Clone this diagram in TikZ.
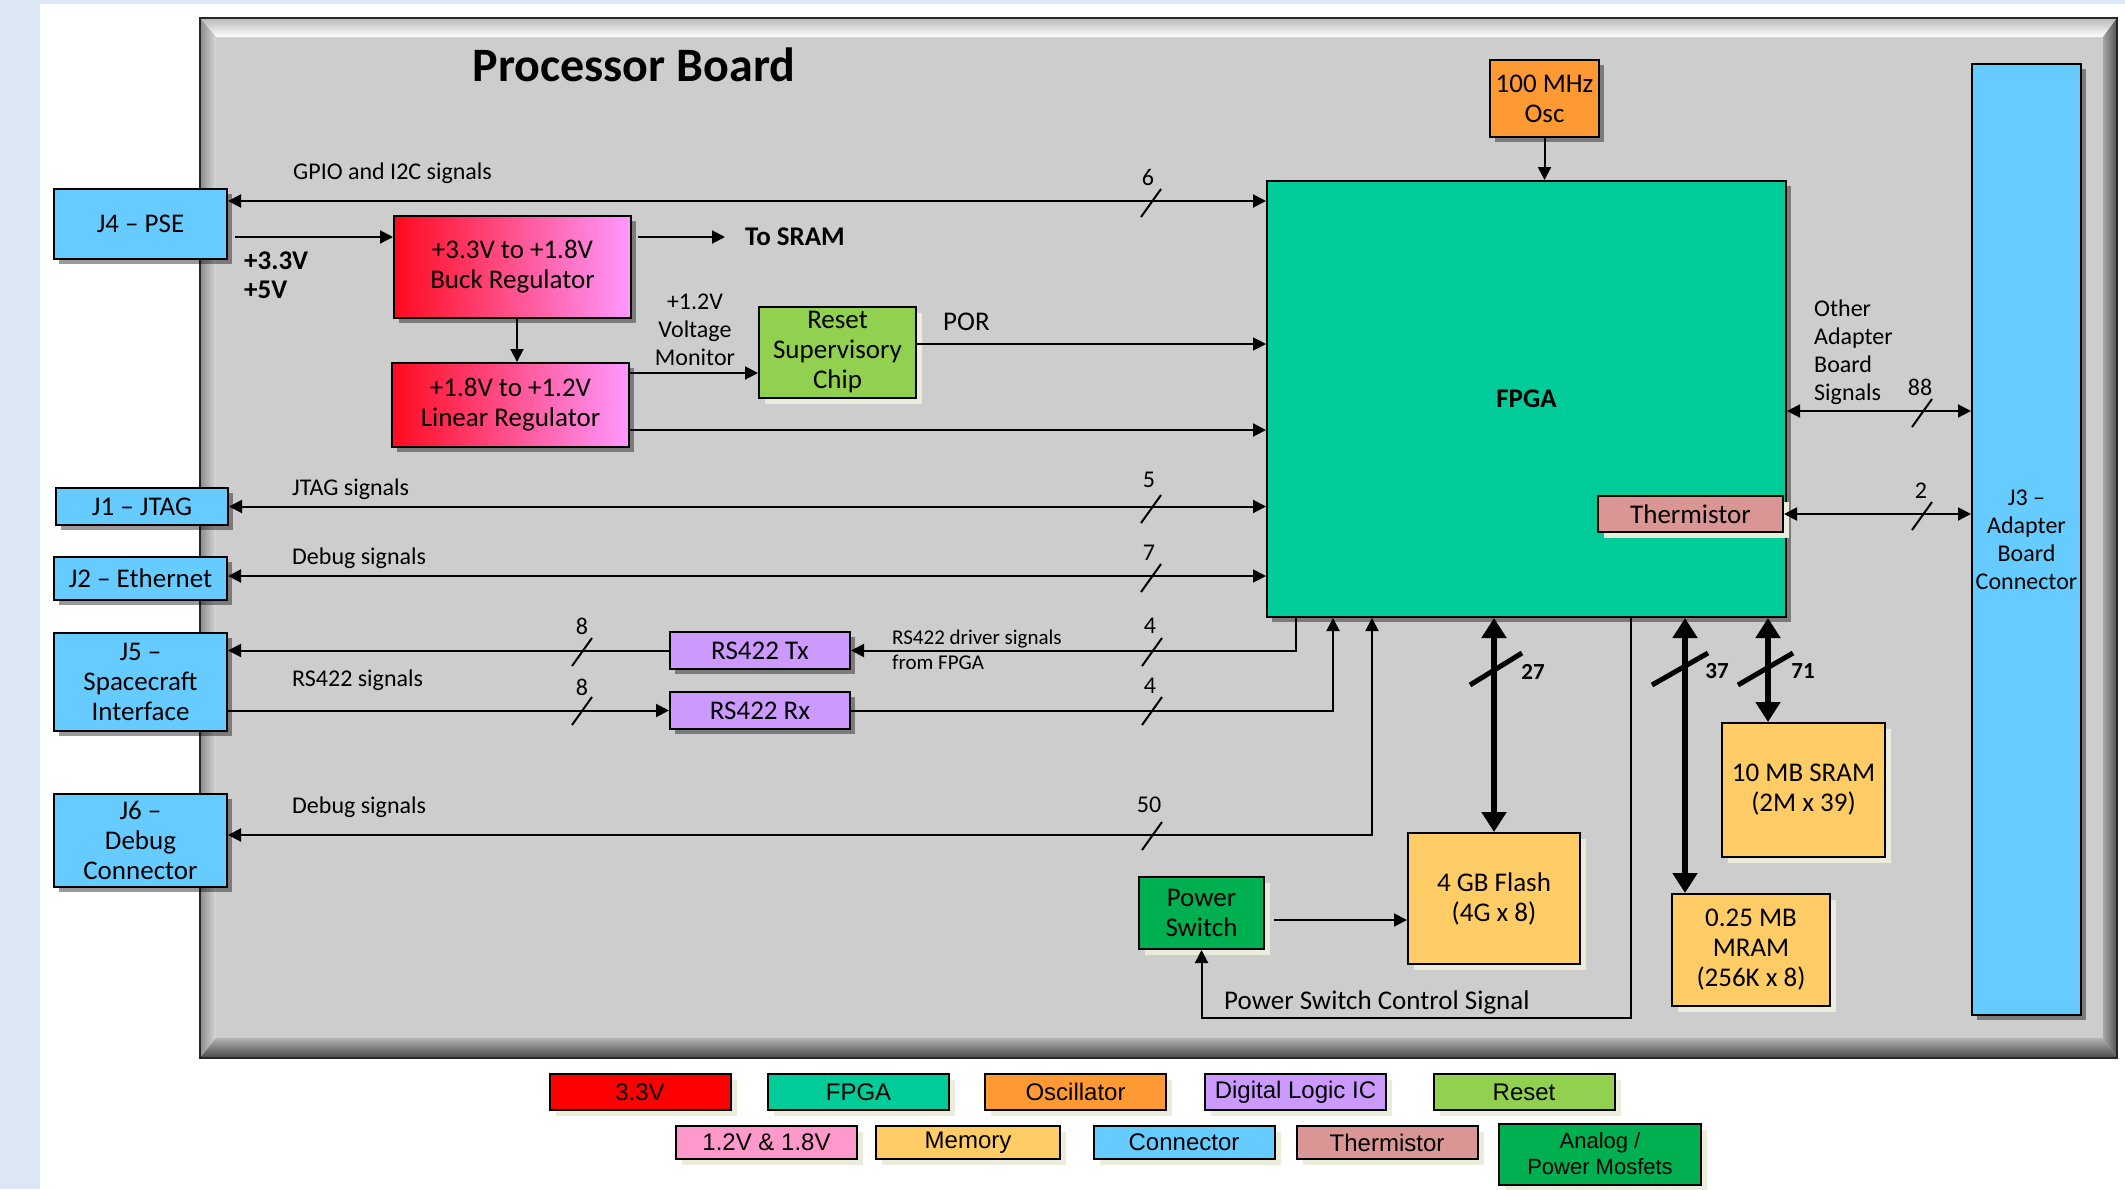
\documentclass[tikz,border=0pt]{standalone}
\usepackage{fontspec}
\setmainfont{Carlito}
\newfontfamily\legfont{Liberation Sans}
\usetikzlibrary{arrows.meta,shadows}
\definecolor{conblue}{HTML}{66CCFF}
\definecolor{fpgagreen}{HTML}{00CC99}
\definecolor{oscorange}{HTML}{FF9933}
\definecolor{logicpurple}{HTML}{CC99FF}
\definecolor{resetgreen}{HTML}{92D050}
\definecolor{lvpink}{HTML}{FF99CC}
\definecolor{memyellow}{HTML}{FFCC66}
\definecolor{thermrose}{HTML}{D99694}
\definecolor{mosgreen}{HTML}{00B050}
\definecolor{regred}{HTML}{FF0A1E}
\definecolor{regpink}{HTML}{FF99FF}
\definecolor{boardgray}{HTML}{CDCDCD}
\definecolor{bgblue}{HTML}{DDE8F5}
\definecolor{cream}{HTML}{ECECDD}
\newcommand{\fA}{\fontsize{27}{30}\selectfont}
\newcommand{\fB}{\fontsize{24}{28}\selectfont}
\newcommand{\fC}{\fontsize{21}{25}\selectfont}
\newcommand{\mkslash}[2]{\draw[line width=2pt] (#1,#2) ++(-10,14) -- ++(20,-28);}
\tikzset{
  mytip/.tip={Triangle[length=13pt,width=13pt]},
  bigtip/.tip={Triangle[length=20pt,width=24pt]},
}
\begin{document}
\begin{tikzpicture}[x=1pt,y=-1pt,
  blk/.style={draw=black, line width=2pt, align=center, inner sep=0pt, font=\fA},
  dsh/.style={drop shadow={shadow xshift=5pt, shadow yshift=-5pt, opacity=0.4, fill=black}},
  lsh/.style={drop shadow={shadow xshift=6pt, shadow yshift=-6pt, opacity=1, fill=cream}},
  lbl/.style={inner sep=0pt, font=\fB},
  arr/.style={line width=2pt, -mytip},
  darr/.style={line width=2pt, mytip-mytip},
  bus/.style={line width=6pt, bigtip-bigtip},
  leg/.style={draw=black, line width=2pt, inner sep=0pt, align=center,
    font=\legfont\fontsize{24}{26}\selectfont, minimum width=181pt, lsh},
]
\useasboundingbox (0,0) rectangle (2125,1189);
% background
\fill[white] (0,0) rectangle (2125,1189);
\fill[bgblue] (0,0) rectangle (40,1189);
\fill[bgblue] (0,0) rectangle (2125,4);
% board with bevel
\fill[boardgray] (200,18) rectangle (2117,1058);
\shade[top color=black!28, bottom color=white] (200,18) -- (2117,18) -- (2103,37) -- (216,37) -- cycle;
\shade[left color=black!45, right color=black!15] (200,18) -- (216,37) -- (216,1038) -- (200,1058) -- cycle;
\shade[top color=black!30, bottom color=black!72] (200,1058) -- (216,1038) -- (2103,1038) -- (2117,1058) -- cycle;
\shade[left color=black!35, right color=black!68] (2117,18) -- (2103,37) -- (2103,1038) -- (2117,1058) -- cycle;
\draw[line width=2.5pt, black!85] (200,18) rectangle (2117,1058);
\node[inner sep=0pt, font=\bfseries\fontsize{48}{50}\selectfont] (title) at (634,65) {Processor Board};

% connectors (left)
\node[blk, fill=conblue, dsh, minimum width=173pt, minimum height=70pt] (J4) at (140.5,224) {J4 – PSE};
\node[blk, fill=conblue, dsh, minimum width=172pt, minimum height=37pt] (J1) at (142,506.5) {J1 – JTAG};
\node[blk, fill=conblue, dsh, minimum width=173pt, minimum height=43pt] (J2) at (140.5,578.5) {J2 – Ethernet};
\node[blk, fill=conblue, dsh, minimum width=173pt, minimum height=98pt] (J5) at (140.5,682) {J5 –\\Spacecraft\\Interface};
\node[blk, fill=conblue, dsh, minimum width=173pt, minimum height=93pt] (J6) at (140.5,840.5) {J6 –\\Debug\\Connector};
% regulators
\node[blk, left color=regred, right color=regpink, dsh, minimum width=237pt, minimum height=102pt] (buck) at (512.5,267) {+3.3V to +1.8V\\Buck Regulator};
\node[blk, left color=regred, right color=regpink, dsh, minimum width=237pt, minimum height=84pt] (linear) at (510.5,405) {+1.8V to +1.2V\\Linear Regulator};
\node[blk, fill=resetgreen, lsh, minimum width=157pt, minimum height=91pt] (reset) at (837.5,352.5) {Reset\\Supervisory\\Chip};
% FPGA etc
\node[blk, fill=fpgagreen, dsh, minimum width=519pt, minimum height=436pt, font=\bfseries\fA] (FPGA) at (1526.5,399) {FPGA};
\node[blk, fill=oscorange, dsh, minimum width=109pt, minimum height=77pt] (osc) at (1544.5,98.5) {100 MHz\\Osc};
\node[blk, fill=thermrose, lsh, minimum width=185pt, minimum height=36pt] (therm) at (1690.5,514) {Thermistor};
\node[blk, fill=conblue, dsh, minimum width=109pt, minimum height=951pt, font=\fB] (J3) at (2026.5,539.5) {J3 –\\Adapter\\Board\\Connector};
\node[blk, fill=logicpurple, dsh, minimum width=180pt, minimum height=37pt] (Tx) at (760,650.5) {RS422 Tx};
\node[blk, fill=logicpurple, dsh, minimum width=180pt, minimum height=37pt] (Rx) at (760,710.5) {RS422 Rx};
\node[blk, fill=memyellow, lsh, minimum width=172pt, minimum height=131pt] (flash) at (1494,898.5) {4 GB Flash\\(4G x 8)};
\node[blk, fill=mosgreen, lsh, minimum width=125pt, minimum height=72pt] (PSw) at (1201.5,913) {Power\\Switch};
\node[blk, fill=memyellow, lsh, minimum width=158pt, minimum height=112pt] (mram) at (1751,950) {0.25 MB\\MRAM\\(256K x 8)};
\node[blk, fill=memyellow, lsh, minimum width=163pt, minimum height=134pt] (sram) at (1803.5,790) {10 MB SRAM\\(2M x 39)};

% labels
\node[lbl, anchor=west] (tgpio) at (293,173) {GPIO and I2C signals};
\node[lbl] (n6) at (1148,177) {6};
\node[lbl, font=\bfseries\fontsize{27}{29}\selectfont, anchor=west, align=left] (tv) at (244,275.5) {+3.3V\\+5V};
\node[lbl, font=\bfseries\fA, anchor=west] (tosram) at (745,237) {To SRAM};
\node[lbl, align=center] (tmon) at (695,330) {+1.2V\\Voltage\\Monitor};
\node[lbl, font=\fA, anchor=west] (tpor) at (943,322) {POR};
\node[lbl, anchor=west] (tjtag) at (292,489) {JTAG signals};
\node[lbl] (n5) at (1149,480) {5};
\node[lbl, anchor=west] (tdbg1) at (292,558) {Debug signals};
\node[lbl] (n7) at (1149,553) {7};
\node[lbl, font=\fC, anchor=west, align=left] (tdrv) at (892,650) {RS422 driver signals\\from FPGA};
\node[lbl] (n4a) at (1150,626) {4};
\node[lbl] (n4b) at (1150,686) {4};
\node[lbl] (n8a) at (582,626) {8};
\node[lbl] (n8b) at (582,687) {8};
\node[lbl, anchor=west] (trs) at (292,680) {RS422 signals};
\node[lbl, anchor=west] (tdbg2) at (292,807) {Debug signals};
\node[lbl] (n50) at (1149,805) {50};
\node[lbl, anchor=west, align=left] (toth) at (1814,352) {Other\\Adapter\\Board\\Signals};
\node[lbl] (n88) at (1920,387) {88};
\node[lbl] (n2) at (1921,491) {2};
\node[lbl, font=\bfseries\fontsize{23}{25}\selectfont] (n27) at (1533,672) {27};
\node[lbl, font=\bfseries\fontsize{23}{25}\selectfont] (n37) at (1717,671) {37};
\node[lbl, font=\bfseries\fontsize{23}{25}\selectfont] (n71) at (1803,671) {71};
\node[lbl, font=\fA, anchor=west] (tpsc) at (1224,1002) {Power Switch Control Signal};

% connections
\draw[darr] (J4.east |- 0,201) -- (FPGA.west |- 0,201);
\draw[arr, shorten <=7pt] (J4.east |- 0,237) -- (buck.west |- 0,237);
\draw[arr, shorten <=6pt, shorten >=20pt] (buck.east |- 0,237) -- (tosram.west);
\draw[arr] (buck.south -| 517,0) -- (linear.north -| 517,0);
\draw[arr] (linear.east |- 0,373) -- (reset.west |- 0,373);
\draw[arr] (linear.east |- 0,430) -- (FPGA.west |- 0,430);
\draw[arr] (reset.east |- 0,344) -- (FPGA.west |- 0,344);
\draw[darr] (J1.east) -- (FPGA.west |- J1.east);
\draw[darr] (J2.east |- 0,576) -- (FPGA.west |- 0,576);
\draw[arr] (FPGA.south -| 1296,0) |- (Tx.east);
\draw[arr] (Tx.west) -- (J5.east |- Tx.west);
\draw[arr] (J5.east |- Rx.west) -- (Rx.west);
\draw[arr] (Rx.east) -| (FPGA.south -| 1333,0);
\draw[darr] (J6.east |- 0,835) -| (FPGA.south -| 1372,0);
\draw[arr] (osc.south) -- (osc.south |- FPGA.north);
\draw[darr] (FPGA.east |- 0,411) -- (J3.west |- 0,411);
\draw[darr] (therm.east) -- (J3.west |- therm.east);
\draw[bus] (flash.north |- FPGA.south) -- (flash.north);
\draw[bus] (FPGA.south -| 1685,0) -- (mram.north -| 1685,0);
\draw[bus] (FPGA.south -| 1768,0) -- (sram.north -| 1768,0);
\draw[arr, shorten <=9pt] (PSw.east |- 0,920) -- (flash.west |- 0,920);
\coordinate (pc) at (1631,1018);
\draw[line width=2pt, -mytip] (FPGA.south -| pc) -- (pc) -| (PSw.south);

% bus slashes
\mkslash{1151}{203}
\mkslash{1151}{509}
\mkslash{1151}{578}
\mkslash{1152}{652}
\mkslash{1152}{711}
\mkslash{1152}{836}
\mkslash{582}{652}
\mkslash{582}{711}
\mkslash{1922}{413}
\mkslash{1922}{516}
\draw[line width=5pt] (1470,685) -- (1522,653);
\draw[line width=5pt] (1652,685) -- (1708,653);
\draw[line width=5pt] (1738,685) -- (1793,653);

% legend
\node[leg, fill=red, minimum height=36pt] (l1) at (640,1092) {3.3V};
\node[leg, fill=fpgagreen, minimum height=36pt] (l2) at (858.5,1092) {FPGA};
\node[leg, fill=oscorange, minimum height=36pt] (l3) at (1075.5,1092) {Oscillator};
\node[leg, fill=logicpurple, minimum height=36pt] (l4) at (1295.5,1092) {Digital Logic IC};
\node[leg, fill=resetgreen, minimum height=36pt] (l5) at (1524,1092) {Reset};
\node[leg, fill=lvpink, minimum height=33pt] (l6) at (766.5,1142.5) {1.2V \& 1.8V};
\node[leg, fill=memyellow, minimum height=33pt, minimum width=184pt] (l7) at (968,1142.5) {Memory};
\node[leg, fill=conblue, minimum height=33pt] (l8) at (1184,1142.5) {Connector};
\node[leg, fill=thermrose, minimum height=33pt] (l9) at (1387,1142.5) {Thermistor};
\node[leg, fill=mosgreen, minimum height=61pt, minimum width=202pt, font=\legfont\fontsize{22}{26}\selectfont] (l10) at (1600,1154) {Analog /\\Power Mosfets};
\end{tikzpicture}
\end{document}
